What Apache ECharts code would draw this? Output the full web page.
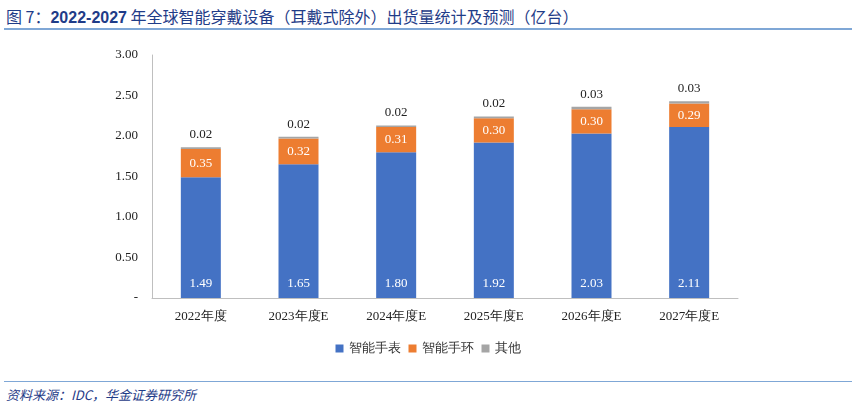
<!DOCTYPE html>
<html><head><meta charset="utf-8">
<script src="https://cdn.jsdelivr.net/npm/echarts@6/dist/echarts.min.js"></script>
<style>
body{margin:0;background:#fff;font-family:"Noto Sans CJK SC",sans-serif}
#title{position:absolute;left:6px;top:4px;font-size:16px;color:#1f3c88;white-space:nowrap}
#title b{font-family:Arial,"Liberation Sans",sans-serif}
#tline{position:absolute;left:4px;right:4px;top:28px;border-top:2px solid #7fa7d6}
#bline{position:absolute;left:4px;right:4px;top:381px;border-top:1px solid #7fa7d6}
#src{position:absolute;left:6px;top:385px;font-size:13px;font-style:italic;color:#1f3c88}
#chart{position:absolute;left:0;top:30px;width:856px;height:350px}
</style></head><body>
<div id="title">图 7：<b>2022-2027</b> 年全球智能穿戴设备（耳戴式除外）出货量统计及预测（亿台）</div>
<div id="tline"></div>
<div id="chart"></div>
<div id="bline"></div>
<div id="src">资料来源：IDC，华金证券研究所</div>
<script>
var categories=['2022年度','2023年度E','2024年度E','2025年度E','2026年度E','2027年度E'];
var watch=[1.49,1.65,1.80,1.92,2.03,2.11];
var band=[0.35,0.32,0.31,0.30,0.30,0.29];
var other=[0.02,0.02,0.02,0.02,0.03,0.03];
var chart=echarts.init(document.getElementById('chart'));
var font='"Times New Roman","Liberation Serif",serif';
chart.setOption({
  animation:false,
  grid:{left:152,right:118,top:25,bottom:82},
  legend:{bottom:20,left:'center',itemWidth:8,itemHeight:8,icon:'rect',
    textStyle:{fontSize:13,color:'#333'},data:['智能手表','智能手环','其他']},
  xAxis:{type:'category',data:categories,axisTick:{show:false},
    axisLine:{lineStyle:{color:'#bfbfbf'}},
    axisLabel:{fontFamily:font,fontSize:13,color:'#222',margin:12}},
  yAxis:{type:'value',min:0,max:3,interval:0.5,splitLine:{show:false},
    axisLine:{show:true,lineStyle:{color:'#bfbfbf'}},
    axisLabel:{fontFamily:font,fontSize:13,color:'#222',margin:14,
      formatter:function(v){return v===0?'-':v.toFixed(2);}}},
  series:[
    {name:'智能手表',type:'bar',stack:'a',barWidth:40,data:watch,itemStyle:{color:'#4472c4'},
     label:{show:true,position:'insideBottom',distance:8,color:'#fff',fontFamily:font,fontSize:13,formatter:function(p){return p.value.toFixed(2);}}},
    {name:'智能手环',type:'bar',stack:'a',data:band,itemStyle:{color:'#ed7d31'},
     label:{show:true,position:'inside',color:'#fff',fontFamily:font,fontSize:13,formatter:function(p){return p.value.toFixed(2);}}},
    {name:'其他',type:'bar',stack:'a',data:other,itemStyle:{color:'#a5a5a5'},
     label:{show:true,position:'top',distance:6,color:'#222',fontFamily:font,fontSize:13,formatter:function(p){return p.value.toFixed(2);}}}
  ]
});
</script></body></html>
